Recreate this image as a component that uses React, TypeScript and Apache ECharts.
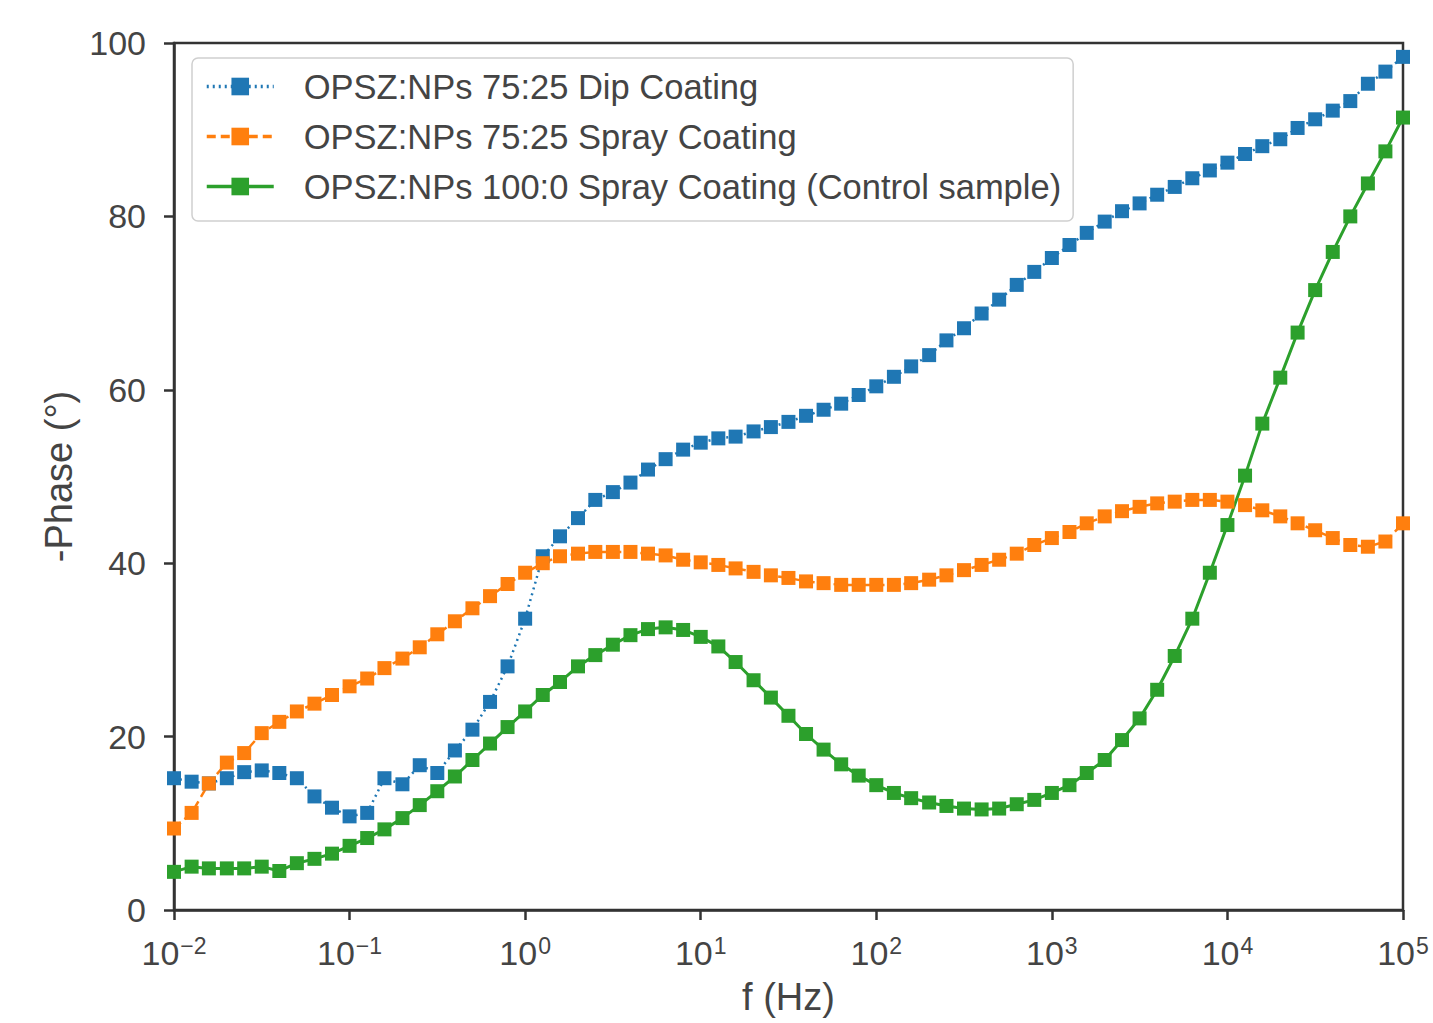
import React, { useEffect, useRef } from "react";
import * as echarts from "echarts";

// Frequency sweep (Hz), 10 points per decade from 10^-2 to 10^5
const freqHz = [
  0.01, 0.0126, 0.0158, 0.02, 0.0251, 0.0316, 0.0398, 0.0501, 0.0631, 0.0794,
  0.1, 0.126, 0.158, 0.2, 0.251, 0.316, 0.398, 0.501, 0.631, 0.794,
  1, 1.26, 1.58, 2, 2.51, 3.16, 3.98, 5.01, 6.31, 7.94,
  10, 12.6, 15.8, 20, 25.1, 31.6, 39.8, 50.1, 63.1, 79.4,
  100, 126, 158, 200, 251, 316, 398, 501, 631, 794,
  1000, 1260, 1580, 2000, 2510, 3160, 3980, 5010, 6310, 7940,
  10000, 12600, 15800, 20000, 25100, 31600, 39800, 50100, 63100, 79400,
  100000,
];

// -Phase (degrees) for each coating
const dipCoating7525 = [
  15.2, 14.8, 14.6, 15.2, 15.9, 16.1, 15.8, 15.2, 13.1, 11.8,
  10.8, 11.2, 15.2, 14.5, 16.7, 15.8, 18.4, 20.8, 24.0, 28.1,
  33.6, 40.8, 43.1, 45.2, 47.3, 48.2, 49.3, 50.8, 52.0, 53.1,
  53.9, 54.4, 54.6, 55.2, 55.7, 56.3, 57.0, 57.7, 58.4, 59.4,
  60.4, 61.5, 62.7, 64.0, 65.7, 67.1, 68.8, 70.4, 72.1, 73.6,
  75.2, 76.7, 78.1, 79.4, 80.6, 81.5, 82.5, 83.4, 84.4, 85.3,
  86.2, 87.2, 88.1, 88.9, 90.2, 91.2, 92.2, 93.3, 95.3, 96.7,
  98.4,
];

const sprayCoating7525 = [
  9.4, 11.2, 14.6, 17.0, 18.1, 20.4, 21.7, 22.9, 23.8, 24.8,
  25.8, 26.7, 27.9, 29.0, 30.3, 31.8, 33.3, 34.8, 36.2, 37.6,
  38.9, 40.0, 40.8, 41.1, 41.3, 41.3, 41.3, 41.1, 40.9, 40.4,
  40.1, 39.8, 39.4, 39.0, 38.6, 38.3, 37.9, 37.7, 37.5, 37.5,
  37.5, 37.5, 37.7, 38.1, 38.6, 39.2, 39.8, 40.4, 41.1, 42.1,
  42.9, 43.6, 44.6, 45.4, 46.0, 46.5, 46.9, 47.1, 47.3, 47.3,
  47.1, 46.7, 46.1, 45.4, 44.6, 43.8, 42.9, 42.1, 41.9, 42.5,
  44.6,
];

const sprayCoating1000 = [
  4.4, 5.0, 4.8, 4.8, 4.8, 5.0, 4.5, 5.4, 5.9, 6.5,
  7.4, 8.3, 9.3, 10.6, 12.1, 13.7, 15.4, 17.3, 19.2, 21.1,
  22.9, 24.8, 26.3, 28.1, 29.4, 30.6, 31.7, 32.4, 32.6, 32.3,
  31.5, 30.4, 28.6, 26.5, 24.5, 22.4, 20.3, 18.5, 16.8, 15.5,
  14.4, 13.5, 12.9, 12.4, 12.0, 11.7, 11.6, 11.7, 12.2, 12.7,
  13.5, 14.4, 15.8, 17.3, 19.6, 22.1, 25.4, 29.3, 33.6, 38.9,
  44.4, 50.1, 56.1, 61.4, 66.6, 71.5, 75.9, 80.0, 83.8, 87.5,
  91.4,
];

const seriesNames = [
  "OPSZ:NPs 75:25 Dip Coating",
  "OPSZ:NPs 75:25 Spray Coating",
  "OPSZ:NPs 100:0 Spray Coating (Control sample)",
];

const yTicks = [0, 20, 40, 60, 80, 100];

const FONT = "'Liberation Sans', Arial, Helvetica, sans-serif";
const TEXT = "#444";
const FRAME = "#333";

function supExp(v: number): string {
  const e = Math.round(Math.log10(v));
  const s = e < 0 ? "\u2212" + String(-e) : String(e);
  return `{b|10}{s|${s}}`;
}

function makeSeries(name: string, values: number[], color: string, type: any, width: number) {
  return {
    name,
    type: "line",
    data: freqHz.map((f, i) => [f, values[i]]),
    symbol: "rect",
    symbolSize: 14,
    showSymbol: true,
    itemStyle: { color },
    lineStyle: { color, width, type },
    emphasis: { disabled: true },
  };
}

export default function App() {
  const ref = useRef<HTMLDivElement>(null);

  useEffect(() => {
    if (!ref.current) return;
    const chart = echarts.init(ref.current, undefined, { renderer: "svg" });
    chart.setOption({
      animation: false,
      backgroundColor: "#ffffff",
      grid: {
        left: 174,
        right: 30,
        top: 43,
        bottom: 113,
        show: true,
        borderColor: FRAME,
        borderWidth: 2.5,
        backgroundColor: "transparent",
      },
      legend: {
        show: true,
        orient: "vertical",
        left: 192,
        top: 58,
        padding: [9, 12, 15, 13],
        itemWidth: 67,
        itemHeight: 22,
        itemGap: 11,
        backgroundColor: "rgba(255,255,255,0.85)",
        borderColor: "#cfcfcf",
        borderWidth: 1.5,
        borderRadius: 6,
        data: seriesNames,
        lineStyle: { width: 3.5 },
        textStyle: {
          fontFamily: FONT,
          fontSize: 34.5,
          color: TEXT,
          lineHeight: 39,
          padding: [0, 0, 0, 25],
        },
      },
      xAxis: {
        type: "log",
        logBase: 10,
        min: 0.01,
        max: 100000,
        name: "f (Hz)",
        nameLocation: "middle",
        nameGap: 68,
        nameTextStyle: { fontFamily: FONT, fontSize: 38, color: TEXT },
        axisLine: { show: true, lineStyle: { color: FRAME, width: 2.5 } },
        axisTick: { show: true, inside: false, length: 10, lineStyle: { color: FRAME, width: 2.5 } },
        minorTick: { show: false },
        splitLine: { show: false },
        axisLabel: {
          margin: 24,
          formatter: (v: number) => supExp(v),
          rich: {
            b: { fontFamily: FONT, fontSize: 34, color: TEXT, lineHeight: 38 },
            s: { fontFamily: FONT, fontSize: 23, color: TEXT, verticalAlign: "top", lineHeight: 38, padding: [0, 0, 14, 1] },
          },
        },
      },
      yAxis: {
        type: "value",
        min: 0,
        max: 100,
        interval: 20,
        name: "-Phase (\u00b0)",
        nameLocation: "middle",
        nameGap: 95,
        nameRotate: 90,
        nameTextStyle: { fontFamily: FONT, fontSize: 38, color: TEXT },
        axisLine: { show: true, lineStyle: { color: FRAME, width: 2.5 } },
        axisTick: { show: true, inside: false, length: 10, lineStyle: { color: FRAME, width: 2.5 } },
        splitLine: { show: false },
        axisLabel: {
          margin: 28,
          fontFamily: FONT,
          fontSize: 34,
          color: TEXT,
          formatter: (v: number) => (yTicks.includes(v) ? String(v) : ""),
        },
      },
      series: [
        makeSeries(seriesNames[0], dipCoating7525, "#1f77b4", [2, 4], 2.5),
        makeSeries(seriesNames[1], sprayCoating7525, "#ff7f0e", [9, 5], 2.5),
        makeSeries(seriesNames[2], sprayCoating1000, "#2ca02c", "solid", 3),
      ],
    });
    return () => chart.dispose();
  }, []);

  return (
    <div
      ref={ref}
      style={{ position: "absolute", left: 0, top: 0, width: 1433, height: 1023, background: "#fff" }}
    />
  );
}
